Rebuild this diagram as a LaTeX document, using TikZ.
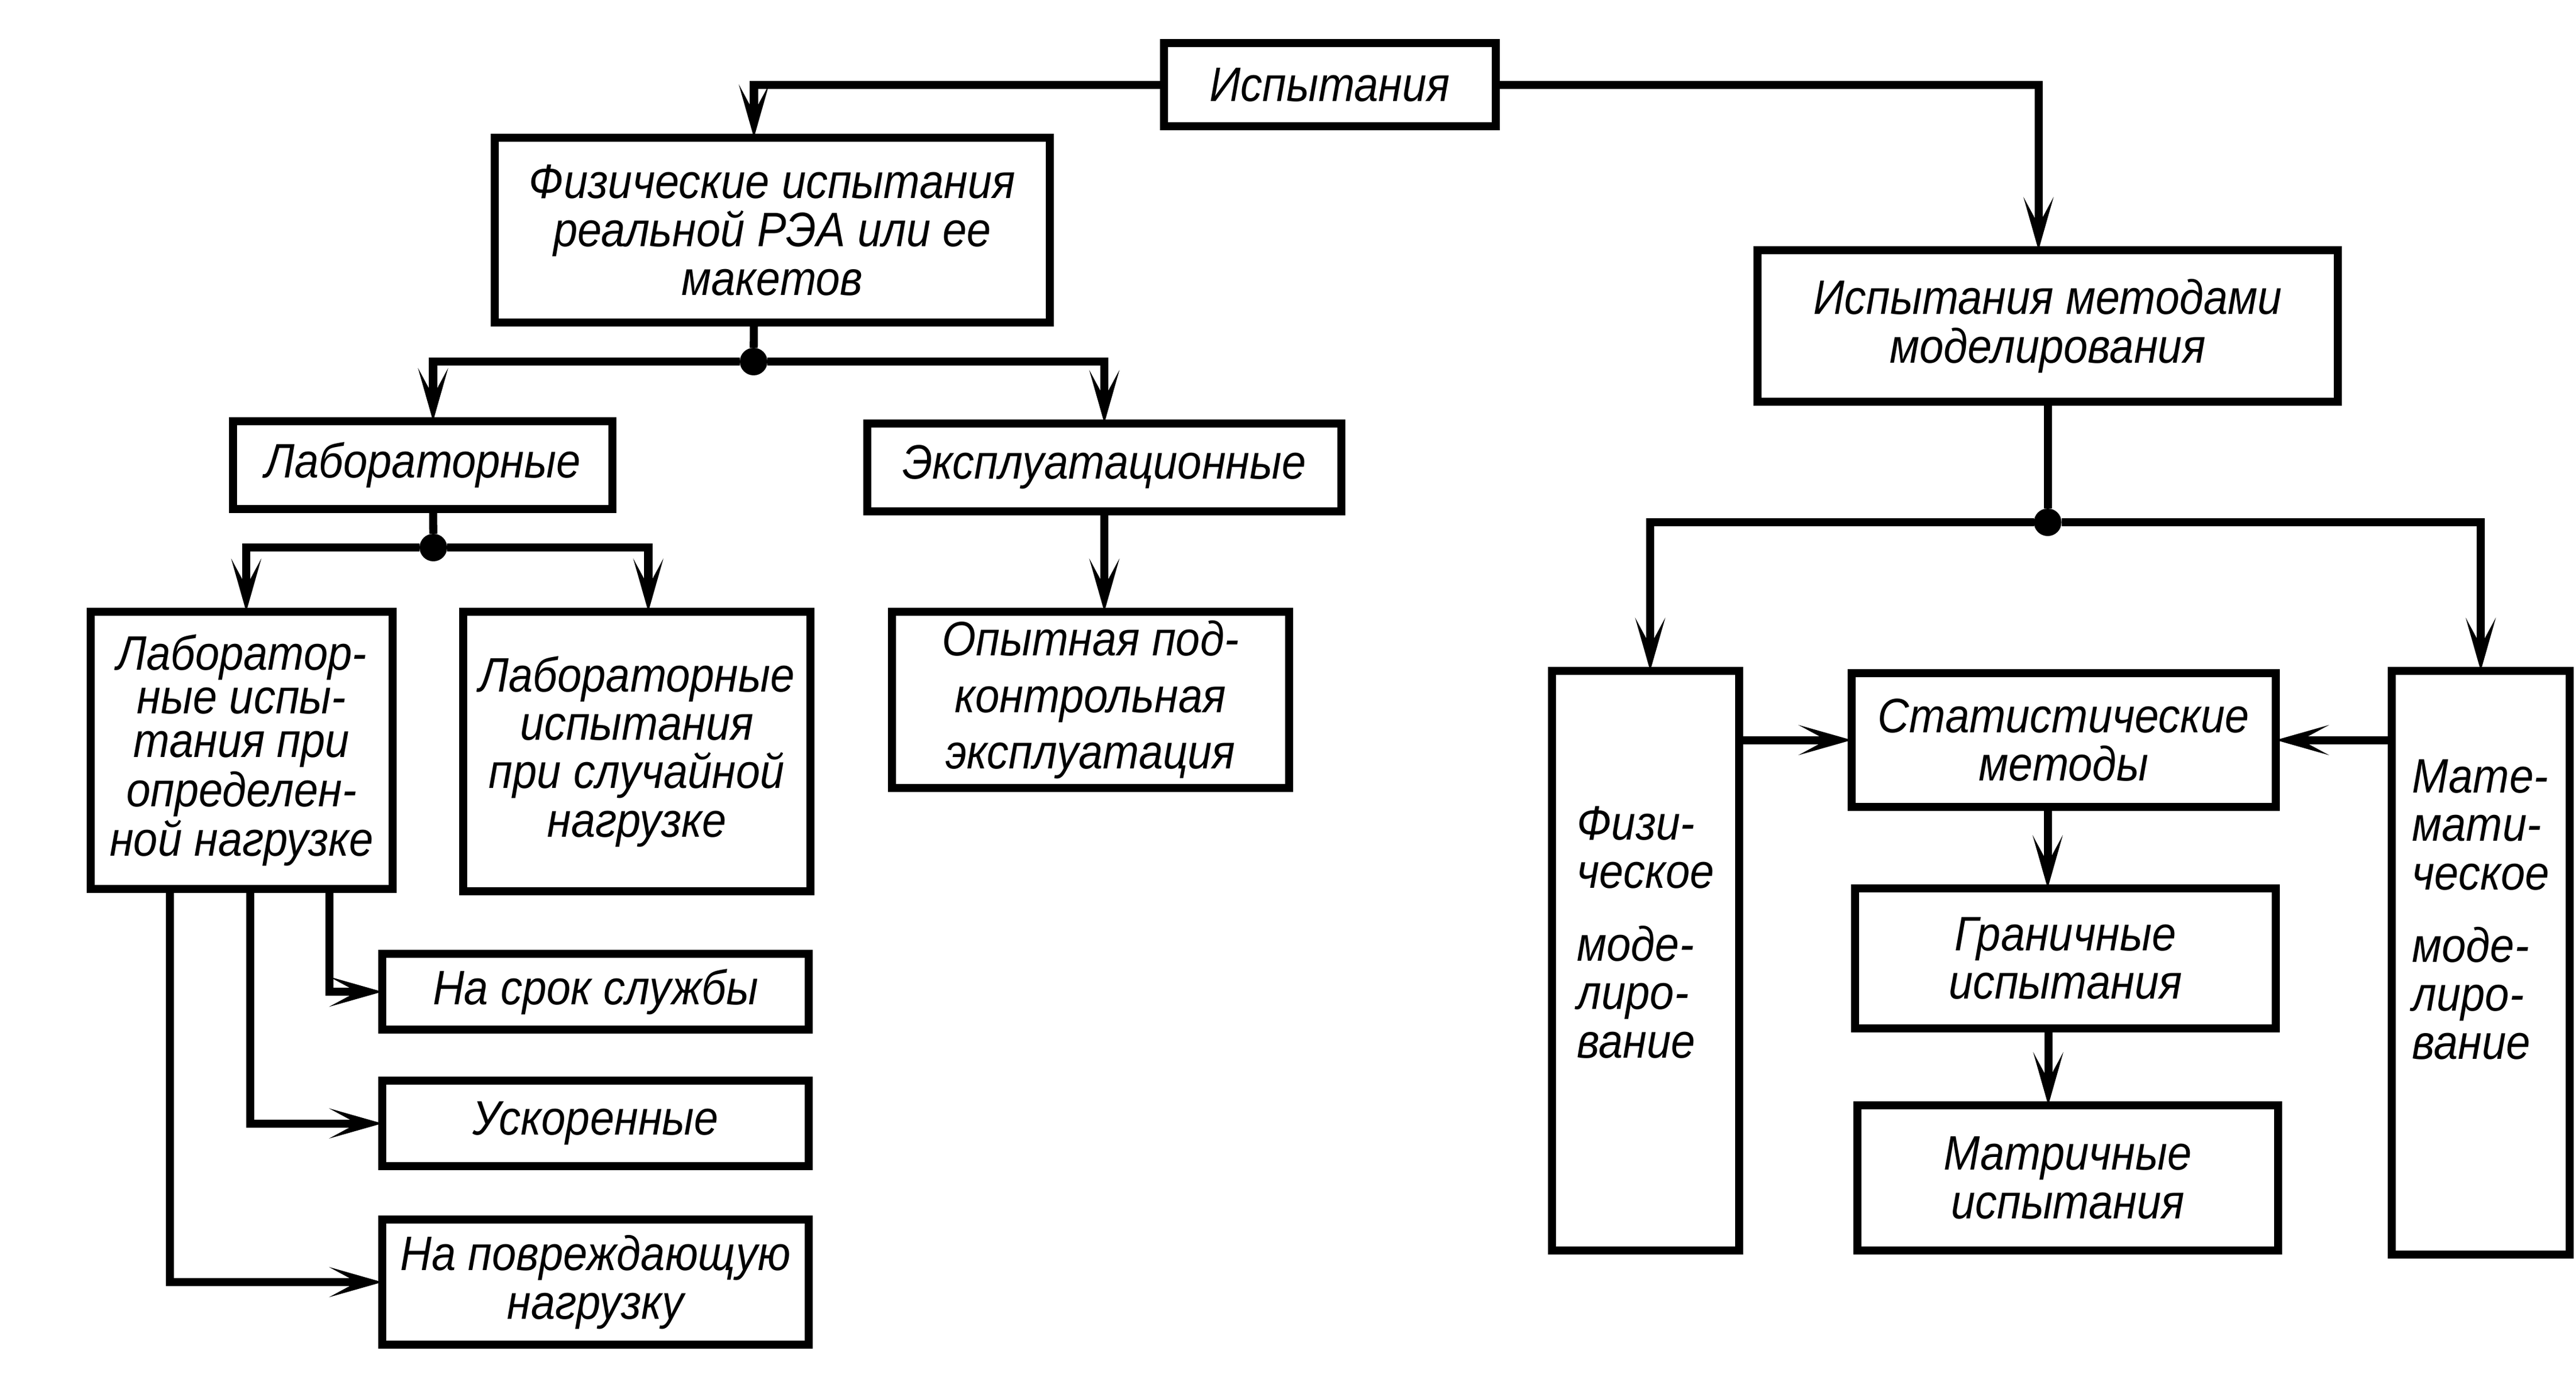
\documentclass[tikz,border=0pt]{standalone}
\usepackage{fontspec}
\setmainfont{Liberation Sans}[FakeStretch=0.9]
\usetikzlibrary{arrows.meta}
\begin{document}
\begin{tikzpicture}[inner sep=0pt,outer sep=0pt,line width=2pt,
>={Stealth[length=4.6mm,width=2.6mm,inset=2.4mm]},
testblock/.style={draw,rectangle,align=center,line width=2pt,font=\fontsize{12}{12}\selectfont\itshape},
junction/.style={circle,fill,minimum size=2.4mm}]
\useasboundingbox (0,0) rectangle (22.44,-12.14);
\draw (11.585,-0.7375) node[testblock,minimum width=2.89cm,minimum height=0.725cm] (tests) {Испытания};
% physical tests
\draw (6.7275,-2.005) node[testblock,minimum width=4.835cm,minimum height=1.61cm] (phys) {Физические испытания\\реальной РЭА или ее\\макетов};
\draw (3.6825,-4.0525) node[testblock,minimum width=3.305cm,minimum height=0.765cm] (lab) {Лабораторные};
\draw (9.62,-4.07) node[testblock,minimum width=4.13cm,minimum height=0.765cm] (expl) {Эксплуатационные};
\draw (2.105,-6.5375) node[testblock,minimum width=2.63cm,minimum height=2.415cm,font=\fontsize{12}{10.8}\selectfont\itshape] (labfix) {Лаборатор-\\ные испы-\\тания при\\определен-\\ной нагрузке};
\draw (5.5475,-6.5475) node[testblock,minimum width=3.025cm,minimum height=2.435cm] (labrand) {Лабораторные\\испытания\\при случайной\\нагрузке};
\draw (9.5,-6.0975) node[testblock,minimum width=3.46cm,minimum height=1.535cm] (trial) {Опытная под-\\[2pt]контрольная\\[2pt]эксплуатация};
\draw (5.1875,-8.64) node[testblock,minimum width=3.715cm,minimum height=0.66cm] (life) {На срок службы};
\draw (5.1875,-9.7875) node[testblock,minimum width=3.715cm,minimum height=0.745cm] (accel) {Ускоренные};
\draw (5.1875,-11.17) node[testblock,minimum width=3.715cm,minimum height=1.09cm] (damage) {На повреждающую\\нагрузку};
% modelling
\draw (17.8375,-2.84) node[testblock,minimum width=5.055cm,minimum height=1.32cm] (model) {Испытания методами\\моделирования};
\draw (14.335,-8.37) node[testblock,align=left,minimum width=1.63cm,minimum height=5.05cm,text depth=0.5cm] (physmod) {Физи-\\ческое\\[6pt]моде-\\лиро-\\вание};
\draw (21.61,-8.3875) node[testblock,align=left,minimum width=1.55cm,minimum height=5.085cm,text depth=0.93cm] (mathmod) {Мате-\\мати-\\ческое\\[6pt]моде-\\лиро-\\вание};
\draw (17.9775,-6.4475) node[testblock,minimum width=3.695cm,minimum height=1.165cm] (stat) {Статистические\\методы};
\draw (17.9925,-8.35) node[testblock,minimum width=3.665cm,minimum height=1.22cm] (bound) {Граничные\\испытания};
\draw (18.0125,-10.2625) node[testblock,minimum width=3.665cm,minimum height=1.265cm] (matr) {Матричные\\испытания};
\draw (6.565,-3.15) node[junction] (j1) {};
\draw (3.775,-4.77) node[junction] (j2) {};
\draw (17.8375,-4.55) node[junction] (j3) {};
% connectors
\draw[->] (tests.west) -| ([xshift=-1.6mm]phys.north);
\draw[->] (tests.east) -| ([xshift=-0.8mm]model.north);
\draw ([xshift=-1.6mm]phys.south) -- (j1);
\draw[->] (j1) -| ([xshift=0.9mm]lab.north);
\draw[->] (j1) -| (expl.north);
\draw ([xshift=0.9mm]lab.south) -- (j2);
\draw[->] (j2) -| ([xshift=0.4mm]labfix.north);
\draw[->] (j2) -| ([xshift=1mm]labrand.north);
\draw[->] (expl.south) -- (expl.south |- trial.north);
\draw[->] ([xshift=7.65mm]labfix.south) |- (life.west);
\draw[->] ([xshift=0.75mm]labfix.south) |- (accel.west);
\draw[->] ([xshift=-6.25mm]labfix.south) |- (damage.west);
\draw (model.south) -- (j3);
\draw[->] (j3) -| ([xshift=0.4mm]physmod.north);
\draw[->] (j3) -| (mathmod.north);
\draw[->] (physmod.east |- stat.west) -- (stat.west);
\draw[->] (mathmod.west |- stat.east) -- (stat.east);
\draw[->] ([xshift=-1.4mm]stat.south) -- ([xshift=-1.4mm]stat.south |- bound.north);
\draw[->] ([xshift=-1.5mm]bound.south) -- ([xshift=-1.5mm]bound.south |- matr.north);
\end{tikzpicture}
\end{document}
